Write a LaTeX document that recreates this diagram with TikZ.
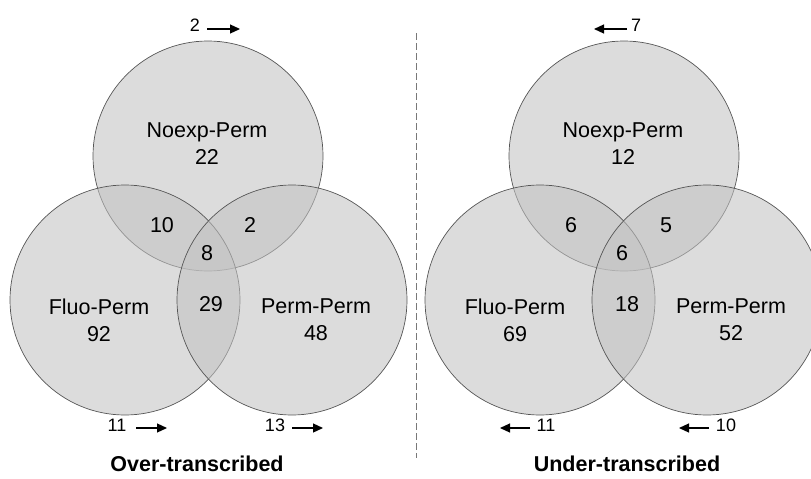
\documentclass[tikz,border=0pt]{standalone}
\usepackage{fontspec}
\setmainfont{Liberation Sans}
\usetikzlibrary{arrows.meta}
\definecolor{venngray}{RGB}{194,194,194}
\definecolor{vennline}{RGB}{85,85,85}
\definecolor{sepgray}{RGB}{120,120,120}
\tikzset{
  venn/.style={circle,draw=vennline,line width=0.7pt,fill=venngray,fill opacity=0.57,minimum size=230pt,inner sep=0pt},
  lbl/.style={font=\fontsize{21.5}{27}\selectfont,align=center,inner sep=0pt},
  cnt/.style={font=\fontsize{18}{20}\selectfont,inner sep=0pt},
  shiftarrow/.style={-{Triangle[length=10pt,width=9pt]},line width=1.2pt},
  ttl/.style={font=\bfseries\fontsize{21.5}{24}\selectfont,inner sep=0pt}
}
\begin{document}
\begin{tikzpicture}[x=1pt,y=-1pt]
      \useasboundingbox (0,0) rectangle (811,479);

      % over-transcribed
      \node[venn] (NO) at (208,156){};
      \node[venn] (FO) at (125,300){};
      \node[venn] (PO) at (292,300){};

      \node[lbl] (nO) at (207,143.5){Noexp-Perm\\22};
      \node[lbl] (fO) at (99,320){Fluo-Perm\\92};
      \node[lbl] (pO) at (316,320){Perm-Perm\\48};
      \node[lbl] (nfO) at (162,225){10};
      \node[lbl] (npO) at (250,225){2};
      \node[lbl] (allO) at (207,253){8};
      \node[lbl] (fpO) at (211,304){29};

      \node[cnt] (cnO) at (195,25){2};
      \coordinate (cnO1) at (207,29);
      \coordinate (cnO2) at (240,29);
      \draw (cnO1) edge[shiftarrow] (cnO2);
      \node[cnt] (cfO) at (117,425){11};
      \coordinate (cfO1) at (136,428);
      \coordinate (cfO2) at (167,428);
      \draw (cfO1) edge[shiftarrow] (cfO2);
      \node[cnt] (cpO) at (275,425){13};
      \coordinate (cpO1) at (292,428);
      \coordinate (cpO2) at (323,428);
      \draw (cpO1) edge[shiftarrow] (cpO2);

      \node[ttl] (tO) at (197,464){Over-transcribed};

      % separator
      \coordinate (s1) at (416,33);
      \coordinate (s2) at (416,458);
      \draw[sepgray,line width=0.8pt,dash pattern=on 7pt off 3pt] (s1) -- (s2);

      % under-transcribed
      \node[venn] (NU) at (624,156){};
      \node[venn] (FU) at (540,300){};
      \node[venn] (PU) at (707,300){};

      \node[lbl] (nU) at (623,143.5){Noexp-Perm\\12};
      \node[lbl] (fU) at (515,320){Fluo-Perm\\69};
      \node[lbl] (pU) at (731,320){Perm-Perm\\52};
      \node[lbl] (nfU) at (571,225){6};
      \node[lbl] (npU) at (666,225){5};
      \node[lbl] (allU) at (622,253){6};
      \node[lbl] (fpU) at (627,304){18};

      \node[cnt] (cnU) at (636,25){7};
      \coordinate (cnU1) at (627,29);
      \coordinate (cnU2) at (594,29);
      \draw (cnU1) edge[shiftarrow] (cnU2);
      \node[cnt] (cfU) at (546,425){11};
      \coordinate (cfU1) at (530,428);
      \coordinate (cfU2) at (500,428);
      \draw (cfU1) edge[shiftarrow] (cfU2);
      \node[cnt] (cpU) at (726,425){10};
      \coordinate (cpU1) at (709,428);
      \coordinate (cpU2) at (679,428);
      \draw (cpU1) edge[shiftarrow] (cpU2);

      \node[ttl] (tU) at (627,464){Under-transcribed};
    \end{tikzpicture}
\end{document}
